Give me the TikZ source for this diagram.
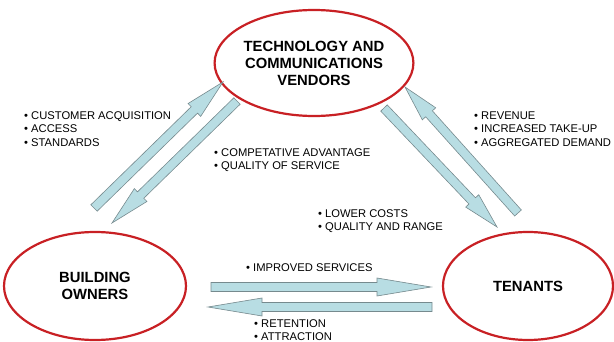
\documentclass[tikz,border=0pt]{standalone}
\usepackage{fontspec}
\setmainfont{Liberation Sans}
\usetikzlibrary{shapes.geometric}
\usetikzlibrary{calc}

\definecolor{ringred}{RGB}{200,32,36}
\definecolor{flowfill}{RGB}{184,221,227}
\definecolor{flowedge}{RGB}{118,138,142}

% block arrow: tail, tip, head length
\newcommand{\flowarrow}[3]{%
  \coordinate (hb) at ($(#2)!#3!(#1)$);
  \draw[flow] ($(#1)!4.5pt!-90:(#2)$) -- ($(hb)!4.5pt!-90:(#2)$)
    -- ($(hb)!9pt!-90:(#2)$) -- (#2) -- ($(hb)!9pt!90:(#2)$)
    -- ($(hb)!4.5pt!90:(#2)$) -- ($(#1)!4.5pt!90:(#2)$) -- cycle;
}

\begin{document}
\begin{tikzpicture}[
    x=1pt, y=-1pt,
    party/.style={ellipse, draw=ringred, line width=2.2pt, align=center,
      inner sep=0pt, font=\bfseries\fontsize{14.8}{17}\selectfont},
    flow/.style={fill=flowfill, draw=flowedge, line width=0.6pt, line join=miter},
    note/.style={anchor=west, align=left, inner sep=0pt,
      font=\fontsize{11.2}{13.6}\selectfont},
  ]
  \useasboundingbox (0,0) rectangle (614,342);

  % the three parties
  \node[party, minimum width=176pt, minimum height=106pt] (vendors) at (314,63)
    {TECHNOLOGY AND\\COMMUNICATIONS\\VENDORS};
  \node[party, minimum width=182pt, minimum height=108pt] (owners) at (95,286)
    {BUILDING\\OWNERS};
  \node[party, minimum width=170pt, minimum height=108pt] (tenants) at (528,286)
    {TENANTS};

  % arrow ends
  \coordinate (ovTail) at (94,208);  \coordinate (ovTip) at (223,82);
  \coordinate (voTail) at (237,101); \coordinate (voTip) at (112,223);
  \coordinate (vtTail) at (384,108); \coordinate (vtTip) at (497,227);
  \coordinate (tvTail) at (518,213); \coordinate (tvTip) at (405,87);
  \coordinate (otTail) at (211,287); \coordinate (otTip) at (431,287);
  \coordinate (toTail) at (432,307); \coordinate (toTip) at (208,307);

  \flowarrow{ovTail}{ovTip}{40pt}
  \flowarrow{voTail}{voTip}{40pt}
  \flowarrow{vtTail}{vtTip}{36pt}
  \flowarrow{tvTail}{tvTip}{36pt}
  \flowarrow{otTail}{otTip}{54pt}
  \flowarrow{toTail}{toTip}{54pt}

  % what flows along each arrow
  \node[note] (ovNote) at (24,129)
    {• CUSTOMER ACQUISITION\\• ACCESS\\• STANDARDS};
  \node[note] (voNote) at (214,160)
    {• COMPETATIVE ADVANTAGE\\• QUALITY OF SERVICE};
  \node[note] (tvNote) at (474,129)
    {• REVENUE\\• INCREASED TAKE-UP\\• AGGREGATED DEMAND};
  \node[note] (vtNote) at (318,221)
    {• LOWER COSTS\\• QUALITY AND RANGE};
  \node[note] (otNote) at (246,268) {• IMPROVED SERVICES};
  \node[note] (toNote) at (254,330) {• RETENTION\\• ATTRACTION};
\end{tikzpicture}
\end{document}
